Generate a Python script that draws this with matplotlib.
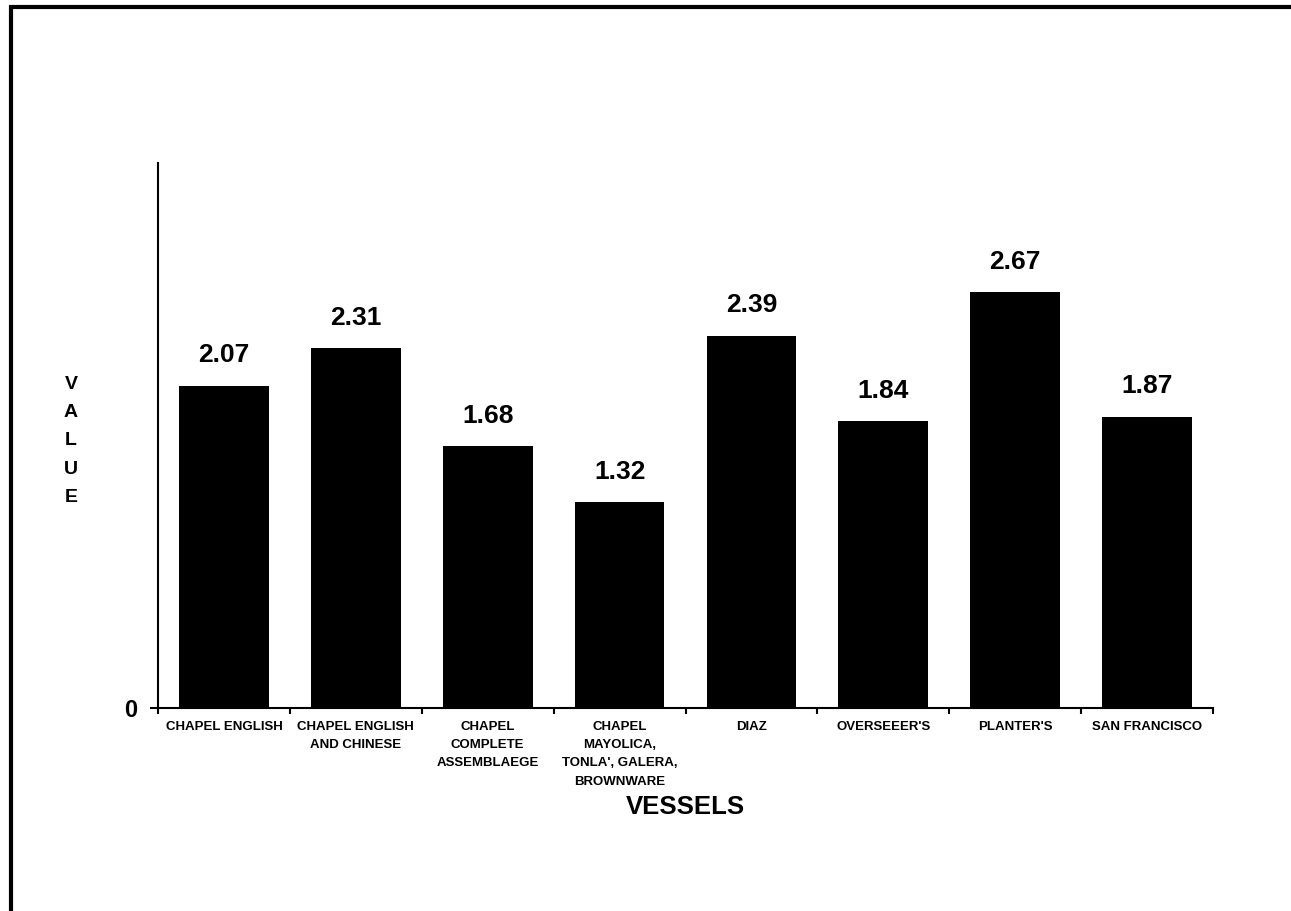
import matplotlib.pyplot as plt
from matplotlib.patches import Rectangle

categories = ["CHAPEL ENGLISH", "CHAPEL ENGLISH\nAND CHINESE", "CHAPEL\nCOMPLETE\nASSEMBLAEGE",
              "CHAPEL\nMAYOLICA,\nTONLA', GALERA,\nBROWNWARE", "DIAZ", "OVERSEEER'S",
              "PLANTER'S", "SAN FRANCISCO"]
values = [2.07, 2.31, 1.68, 1.32, 2.39, 1.84, 2.67, 1.87]

plt.rcParams["font.family"] = ["Liberation Sans", "DejaVu Sans"]
plt.rcParams["font.weight"] = "bold"

fig = plt.figure(figsize=(12.91, 9.11), dpi=100)
ax = fig.add_axes([0.1224, 0.2228, 0.8172, 0.5983])

x = list(range(len(values)))
ax.bar(x, values, width=0.68, color="black")

# value labels above bars
for xi, v in zip(x, values):
    ax.text(xi, v + 0.12, f"{v:.2f}", ha="center", va="bottom", fontsize=19, fontweight="bold")

ax.set_xlim(-0.5, len(values) - 0.5)
ax.set_ylim(0, 3.5)

# category labels centered, ticks on the boundaries
ax.set_xticks([i - 0.5 for i in range(len(values) + 1)])
ax.set_xticklabels([])
ax.set_xticks(x, minor=True)
ax.set_xticklabels(categories, minor=True, fontsize=9.5, fontweight="bold", linespacing=1.72, va="top")
ax.tick_params(axis="x", which="minor", length=0, pad=9)
ax.tick_params(axis="x", which="major", length=4, width=1.5, direction="out")

ax.set_yticks([0])
ax.set_yticklabels(["0"], fontsize=17, fontweight="bold")
ax.tick_params(axis="y", length=6, width=1.5, pad=9)

for side in ["top", "right"]:
    ax.spines[side].set_visible(False)
for side in ["left", "bottom"]:
    ax.spines[side].set_linewidth(1.5)

ax.set_xlabel("VESSELS", fontsize=18.5, fontweight="bold", labelpad=5)
fig.text(0.055, 0.516, "V\nA\nL\nU\nE", ha="center", va="center", fontsize=14,
         fontweight="bold", linespacing=1.88)

# outer frame (only top and left visible)
fig.patches.append(Rectangle((11 / 1291, -0.1), 1.2, 1.1 - 7 / 911, transform=fig.transFigure,
                             fill=False, edgecolor="black", linewidth=3, figure=fig))

fig.savefig("out.png", dpi=100, facecolor="white")
